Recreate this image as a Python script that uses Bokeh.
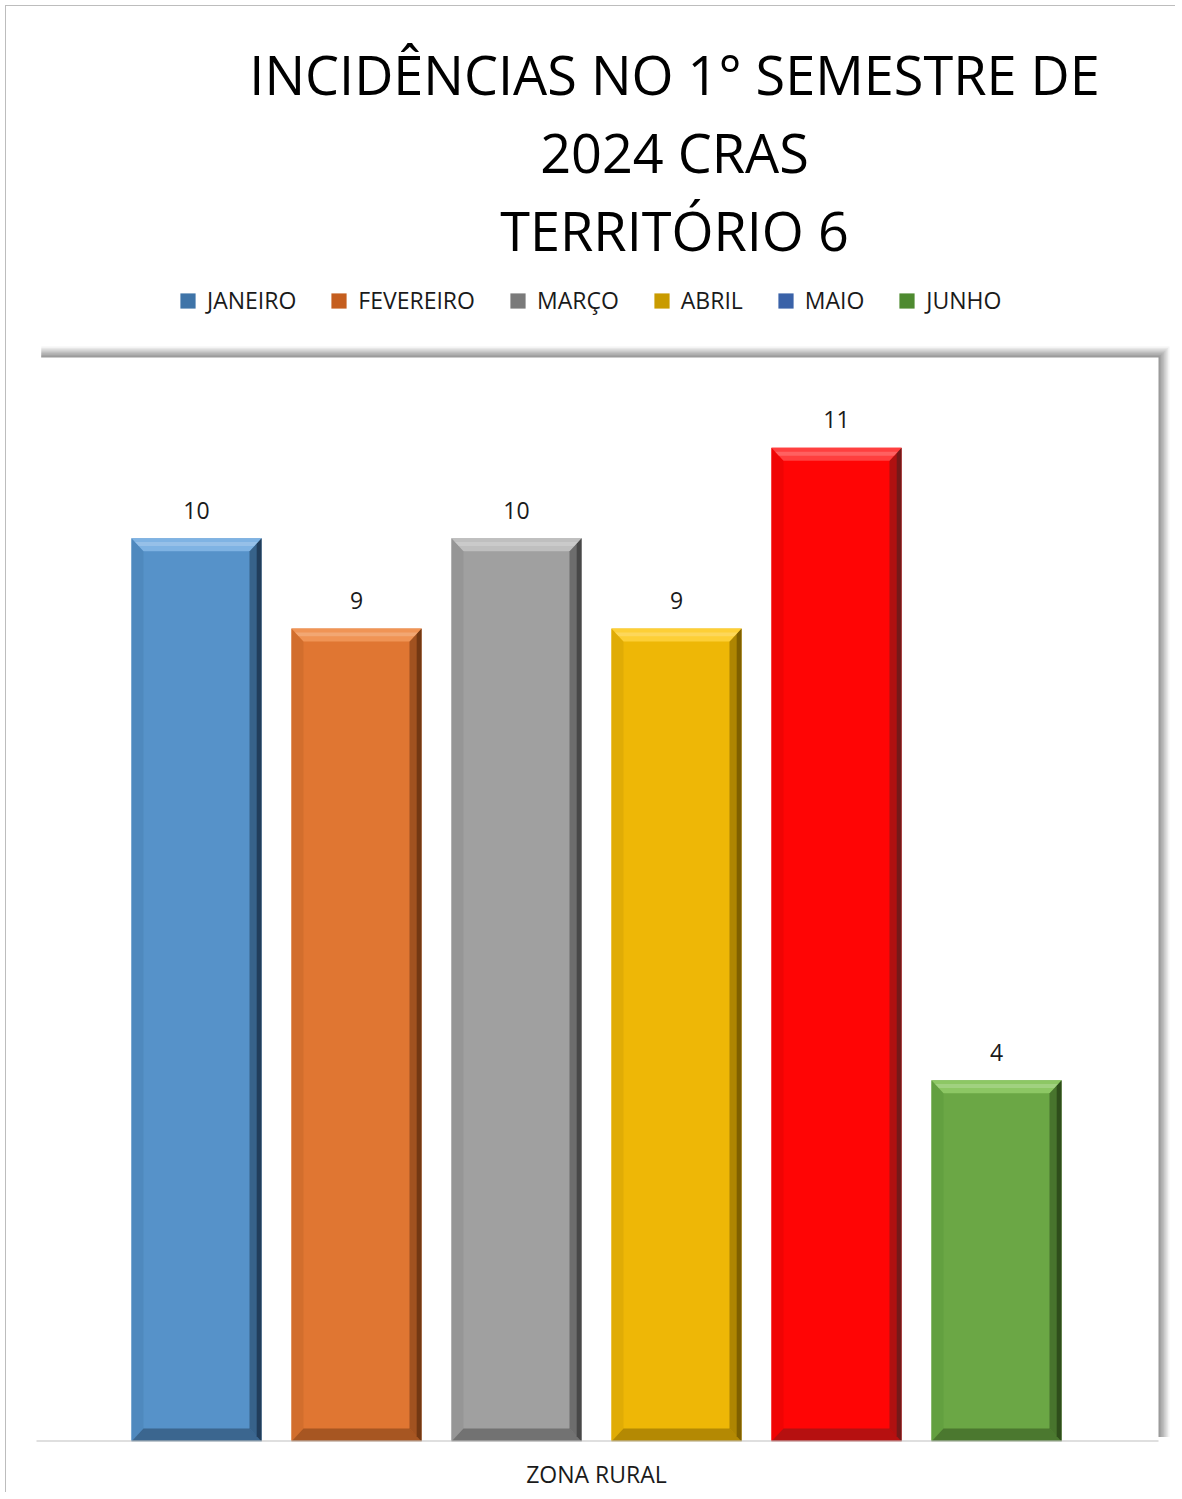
from bokeh.plotting import figure
from bokeh.models import (Range1d, FixedTicker, Label, LabelSet, ColumnDataSource,
                          Legend, LegendItem)
from bokeh.core.properties import value
from bokeh.embed import file_html
from bokeh.resources import INLINE

# ---------------- data ----------------
months = ["JANEIRO", "FEVEREIRO", "MARÇO", "ABRIL", "MAIO", "JUNHO"]
values = [10, 9, 10, 9, 11, 4]
bar_colors = ["#5692C9", "#E07632", "#A0A0A0", "#EEB706", "#FF0505", "#6BA745"]
light_colors = ["#86B8E8", "#F29A5C", "#C4C4C4", "#FFD33F", "#FF4A4A", "#93CC6A"]
dark_colors = ["#1F3A55", "#6E3512", "#444444", "#7A5C00", "#6E1B1B", "#2C4A1A"]
side_colors = ["#4F89BE", "#D26E2D", "#969696", "#E0AC05", "#F00404", "#63A040"]
legend_colors = ["#3F74A8", "#C55E1E", "#7A7A7A", "#C99B00", "#3A62A8", "#4E8A30"]
legend_edges = ["#22405E", "#7A3A12", "#444444", "#7A5E00", "#1F3766", "#2C4E1B"]
category = "ZONA RURAL"
title_lines = ["INCIDÊNCIAS NO 1° SEMESTRE DE", "2024 CRAS", "TERRITÓRIO 6"]

FONT = "Open Sans"
PXX = 160.0     # pixels per x unit
PXY = 90.33     # pixels per y unit
Y_MAX = 12      # top of plot area

# ---------------- figure ----------------
FW, FH = 1166, 1432
p = figure(frame_width=FW, frame_height=FH,
           min_border_left=3, min_border_right=0, min_border_top=3, min_border_bottom=40,
           x_range=Range1d(-187 / PXX, (FW - 187) / PXX), y_range=Range1d(0, FH / PXY),
           output_backend="svg", toolbar_location=None,
           background_fill_color="white", border_fill_color="white")
p.outline_line_color = None
p.grid.visible = False
p.yaxis.visible = False
p.styles = {"margin-left": "5px", "margin-top": "5px",
            "border-left": "1px solid #BDBDBD", "border-top": "1px solid #BDBDBD"}

# x axis (category label only)
ax = p.xaxis[0]
ax.ticker = FixedTicker(ticks=[2.5])
ax.major_label_overrides = {2.5: category}
ax.major_tick_line_color = None
ax.minor_tick_line_color = None
ax.axis_line_color = None
ax.major_label_text_font = FONT
ax.major_label_text_font_size = "23px"
ax.major_label_text_color = "#1a1a1a"
ax.major_label_standoff = 10

# plot area with soft shadow on top and right
PA_L, PA_R = -1.0, 6.0125
for i in range(8):
    d = 11 - i * 1.4
    p.quad(left=PA_L + 0.03, right=PA_R + d / PXX, bottom=0.05, top=Y_MAX + d / PXY,
           fill_color="#707070", fill_alpha=0.08 + 0.018 * i, line_color=None)
p.quad(left=PA_L, right=PA_R, bottom=0, top=Y_MAX, fill_color="white", line_color=None)

# ---------------- bars ----------------
xs = list(range(len(values)))
bw = 130 / PXX
bx = 12 / PXX
by = 13 / PXY

src = ColumnDataSource(dict(
    x=xs, top=values, left=[x - bw / 2 for x in xs], right=[x + bw / 2 for x in xs],
    color=bar_colors, label=[str(v) for v in values]))
p.quad(left="left", right="right", bottom=0, top="top", source=src,
       fill_color="color", line_color=None)

top_x, top_y, right_x, right_y, left_x, left_y, bot_x, bot_y = [], [], [], [], [], [], [], []
edge_x, edge_y, hl_x, hl_y = [], [], [], []
for x, v in zip(xs, values):
    L, R = x - bw / 2, x + bw / 2
    top_x.append([L, R, R - bx, L + bx]); top_y.append([v, v, v - by, v - by])
    hl_x.append([L + bx * 0.3, R - bx * 0.3, R - bx * 0.6, L + bx * 0.6])
    hl_y.append([v - by * 0.3, v - by * 0.3, v - by * 0.6, v - by * 0.6])
    right_x.append([R, R, R - bx, R - bx]); right_y.append([v, 0, by, v - by])
    left_x.append([L, L + bx, L + bx, L]); left_y.append([v, v - by, by, 0])
    bot_x.append([L, R, R - bx, L + bx]); bot_y.append([0, 0, by, by])
    edge_x.append([R - bx * 0.4, R, R, R - bx * 0.4]); edge_y.append([v - by * 0.4, v, 0, by * 0.4])

p.patches(xs=left_x, ys=left_y, fill_color=side_colors, line_color=None)
p.patches(xs=bot_x, ys=bot_y, fill_color=dark_colors, fill_alpha=0.5, line_color=None)
p.patches(xs=right_x, ys=right_y, fill_color=dark_colors, fill_alpha=0.55, line_color=None)
p.patches(xs=edge_x, ys=edge_y, fill_color=dark_colors, fill_alpha=0.9, line_color=None)
p.patches(xs=top_x, ys=top_y, fill_color=light_colors, fill_alpha=0.85, line_color=None)
p.patches(xs=hl_x, ys=hl_y, fill_color="white", fill_alpha=0.18, line_color=None)

# axis line along the bottom of the plot area
p.segment(x0=[PA_L], x1=[PA_R], y0=[0], y1=[0], line_color="#BFBFBF", line_width=2)

# value labels
p.add_layout(LabelSet(x="x", y="top", text="label", source=src, y_offset=28,
                      text_align="center", text_baseline="middle",
                      text_font=value(FONT), text_font_size="23px", text_color="#1a1a1a"))

# ---------------- legend ----------------
leg_src = ColumnDataSource(dict(x=xs, c=legend_colors, e=legend_edges, z=[0] * len(xs)))
sw = p.quad(left="x", right="x", bottom="z", top="z", source=leg_src,
            fill_color="c", line_color="e", line_alpha=0.0, line_width=1.5)
items = [LegendItem(label=m, renderers=[sw], index=i) for i, m in enumerate(months)]
legend = Legend(items=items, orientation="horizontal", location=(169, 1125),
                glyph_width=19, glyph_height=19, label_standoff=10, spacing=33,
                padding=0, margin=0, border_line_color=None, background_fill_alpha=0,
                label_text_font=FONT, label_text_font_size="23px", label_text_color="#1a1a1a",
                label_height=24)
p.add_layout(legend, "center")

# ---------------- title ----------------
for i, t in enumerate(title_lines):
    p.add_layout(Label(x=665, y=1368 - 78 * i, x_units="screen", y_units="screen",
                       text=t, text_align="center", text_baseline="middle",
                       text_font=FONT, text_font_size="54px", text_color="black"))

open("out.html", "w").write(file_html(p, INLINE))
